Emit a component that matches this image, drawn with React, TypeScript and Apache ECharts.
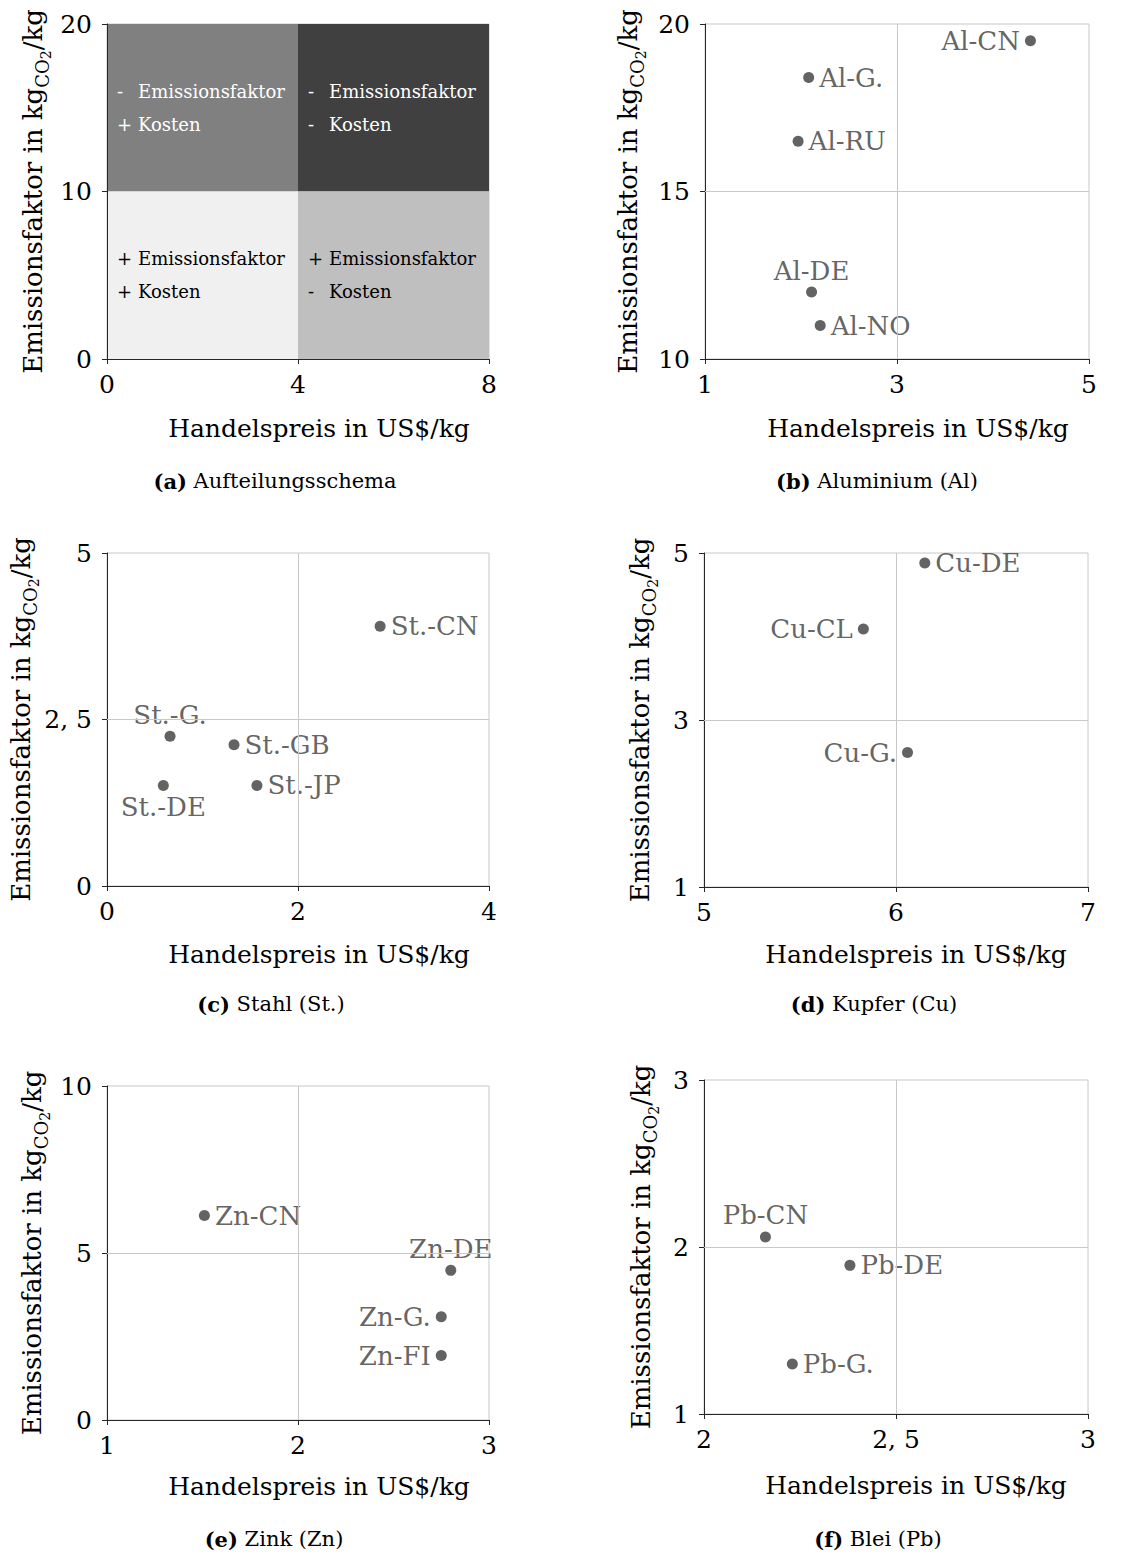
import React, { useEffect, useRef } from 'react';
import * as echarts from 'echarts';

const SERIF = '"DejaVu Serif", "Liberation Serif", serif';
const INK = '#000000';
const MARK = '#3c3c3c';
const GRID = '#c8c8c8';
const AXIS = '#262626';

// (a) Aufteilungsschema: quadrants of price vs. emission factor
const schemeXTicks = [0, 4, 8];
const schemeYTicks = [0, 10, 20];
const criteria = ['Emissionsfaktor', 'Kosten'];
// order: top-left, top-right, bottom-left, bottom-right; [emission sign, cost sign]
const quadrantSigns = [['-', '+'], ['-', '-'], ['+', '+'], ['+', '-']];
const quadrantFills = ['#808080', '#404040', '#f0f0f0', '#bfbfbf'];
const quadrantInk = ['#ffffff', '#ffffff', '#000000', '#000000'];

// (b) Aluminium
const alNames = ['Al-CN', 'Al-G.', 'Al-RU', 'Al-DE', 'Al-NO'];
const alPrice = [4.39, 2.08, 1.97, 2.11, 2.2];
const alEmission = [19.5, 18.4, 16.5, 12.0, 11.0];
const alXTicks = [1, 3, 5];
const alYTicks = [10, 15, 20];

// (c) Stahl
const stNames = ['St.-CN', 'St.-G.', 'St.-GB', 'St.-DE', 'St.-JP'];
const stPrice = [2.86, 0.66, 1.33, 0.59, 1.57];
const stEmission = [3.9, 2.25, 2.12, 1.51, 1.51];
const stXTicks = [0, 2, 4];
const stYTicks = [0, 2.5, 5];

// (d) Kupfer
const cuNames = ['Cu-DE', 'Cu-CL', 'Cu-G.'];
const cuPrice = [6.15, 5.83, 6.06];
const cuEmission = [4.88, 4.09, 2.61];
const cuXTicks = [5, 6, 7];
const cuYTicks = [1, 3, 5];

// (e) Zink
const znNames = ['Zn-CN', 'Zn-DE', 'Zn-G.', 'Zn-FI'];
const znPrice = [1.51, 2.8, 2.75, 2.75];
const znEmission = [6.12, 4.48, 3.09, 1.93];
const znXTicks = [1, 2, 3];
const znYTicks = [0, 5, 10];

// (f) Blei
const pbNames = ['Pb-CN', 'Pb-DE', 'Pb-G.'];
const pbPrice = [2.16, 2.38, 2.23];
const pbEmission = [2.06, 1.89, 1.3];
const pbXTicks = [2, 2.5, 3];
const pbYTicks = [1, 2, 3];

const captionTags = ['(a)', '(b)', '(c)', '(d)', '(e)', '(f)'];
const captionTexts = ['Aufteilungsschema', 'Aluminium (Al)', 'Stahl (St.)', 'Kupfer (Cu)', 'Zink (Zn)', 'Blei (Pb)'];

const xTitle = 'Handelspreis in US$/kg';

// side on which each point label sits (default: right)
const labelSide: Record<string, string> = {
  'Al-CN': 'left',
  'Al-DE': 'top',
  'St.-G.': 'top',
  'St.-DE': 'bottom',
  'Cu-CL': 'left',
  'Cu-G.': 'left',
  'Zn-DE': 'top',
  'Zn-G.': 'left',
  'Zn-FI': 'left',
  'Pb-CN': 'top',
};

// page layout of the six panels
const layout = [
  { left: 107, top: 24, width: 382, height: 335, yTitleX: 35, xTitleX: 319, xTitleY: 428, capX: 275, capY: 481 },
  { left: 705, top: 24, width: 384, height: 335, yTitleX: 630, xTitleX: 918, xTitleY: 428, capX: 877, capY: 481 },
  { left: 107, top: 553, width: 382, height: 333, yTitleX: 23, xTitleX: 319, xTitleY: 954, capX: 271, capY: 1004 },
  { left: 704, top: 553, width: 384, height: 334, yTitleX: 642, xTitleX: 916, xTitleY: 954, capX: 874, capY: 1004 },
  { left: 107, top: 1086, width: 382, height: 334, yTitleX: 34, xTitleX: 319, xTitleY: 1486, capX: 274, capY: 1539 },
  { left: 704, top: 1080, width: 384, height: 334, yTitleX: 643, xTitleX: 916, xTitleY: 1485, capX: 878, capY: 1539 },
];

const scatterPanels = [
  { names: alNames, x: alPrice, y: alEmission, xTicks: alXTicks, yTicks: alYTicks },
  { names: stNames, x: stPrice, y: stEmission, xTicks: stXTicks, yTicks: stYTicks },
  { names: cuNames, x: cuPrice, y: cuEmission, xTicks: cuXTicks, yTicks: cuYTicks },
  { names: znNames, x: znPrice, y: znEmission, xTicks: znXTicks, yTicks: znYTicks },
  { names: pbNames, x: pbPrice, y: pbEmission, xTicks: pbXTicks, yTicks: pbYTicks },
];

const fmt = (v: number) => String(v).replace('.', ', ');

function valueAxis(gridIndex: number, ticks: number[], isX: boolean) {
  return {
    type: 'value',
    gridIndex,
    min: ticks[0],
    max: ticks[ticks.length - 1],
    z: 4,
    axisLine: { show: true, onZero: false, lineStyle: { color: AXIS, width: 1 } },
    axisTick: { show: true, inside: false, length: 5, customValues: ticks, lineStyle: { color: AXIS, width: 1 } },
    axisLabel: {
      show: true,
      customValues: ticks,
      margin: isX ? 13 : 15,
      color: INK,
      fontSize: 25,
      fontFamily: SERIF,
      formatter: fmt,
      hideOverlap: false,
    },
    splitLine: { show: false },
  };
}

function buildOption() {
  const xTicksAll = [schemeXTicks, ...scatterPanels.map((p) => p.xTicks)];
  const yTicksAll = [schemeYTicks, ...scatterPanels.map((p) => p.yTicks)];

  const grid = layout.map((l) => ({
    left: l.left,
    top: l.top,
    width: l.width,
    height: l.height,
    containLabel: false,
    outerBoundsMode: 'none',
    show: true,
    borderColor: GRID,
    borderWidth: 1,
    backgroundColor: 'transparent',
  }));

  const xAxis = xTicksAll.map((t, i) => valueAxis(i, t, true));
  const yAxis = yTicksAll.map((t, i) => valueAxis(i, t, false));

  // quadrants of the scheme panel
  const colBounds = [
    [schemeXTicks[0], schemeXTicks[1]],
    [schemeXTicks[1], schemeXTicks[2]],
  ];
  const rowBounds = [
    [schemeYTicks[1], schemeYTicks[2]],
    [schemeYTicks[0], schemeYTicks[1]],
  ];
  const quadrantData = quadrantSigns.map((signs, q) => {
    const row = Math.floor(q / 2);
    const col = q % 2;
    const ink = quadrantInk[q];
    const textStyle = { fontSize: 18, fontFamily: SERIF, color: ink, lineHeight: 33 };
    return [
      {
        xAxis: colBounds[col][0],
        yAxis: rowBounds[row][0],
        itemStyle: { color: quadrantFills[q], opacity: 1, borderWidth: 0 },
        label: {
          show: true,
          position: 'insideLeft',
          distance: 10,
          formatter: `{s|${signs[0]}}{t|${criteria[0]}}\n{s|${signs[1]}}{t|${criteria[1]}}`,
          rich: {
            s: { ...textStyle, width: 21 },
            t: { ...textStyle },
          },
        },
      },
      { xAxis: colBounds[col][1], yAxis: rowBounds[row][1] },
    ];
  });

  const series: any[] = [
    {
      type: 'scatter',
      xAxisIndex: 0,
      yAxisIndex: 0,
      data: [],
      silent: true,
      markArea: { silent: true, data: quadrantData },
    },
  ];

  scatterPanels.forEach((p, k) => {
    const i = k + 1;
    series.push({
      type: 'scatter',
      xAxisIndex: i,
      yAxisIndex: i,
      symbol: 'circle',
      symbolSize: 11,
      silent: true,
      itemStyle: { color: MARK },
      label: {
        show: true,
        formatter: '{b}',
        color: MARK,
        fontSize: 26,
        fontFamily: SERIF,
        distance: 5,
      },
      data: p.names.map((n, j) => ({
        name: n,
        value: [p.x[j], p.y[j]],
        label: { position: labelSide[n] || 'right', distance: labelSide[n] === 'top' || labelSide[n] === 'bottom' ? 3 : 5 },
      })),
      markLine: {
        silent: true,
        symbol: ['none', 'none'],
        label: { show: false },
        lineStyle: { color: GRID, width: 1, type: 'solid' },
        data: [{ xAxis: p.xTicks[1] }, { yAxis: p.yTicks[1] }],
      },
    });
  });

  const graphic: any[] = [];
  layout.forEach((l, i) => {
    graphic.push({
      type: 'text',
      x: l.xTitleX,
      y: l.xTitleY,
      silent: true,
      style: {
        text: xTitle,
        fontSize: 25,
        fontFamily: SERIF,
        fill: INK,
        align: 'center',
        verticalAlign: 'middle',
      },
    });
    graphic.push({
      type: 'text',
      x: l.yTitleX,
      y: l.top + l.height / 2,
      rotation: Math.PI / 2,
      silent: true,
      style: {
        text: '{n|Emissionsfaktor in kg}{s|CO}{u|2}{n|/kg}',
        fontFamily: SERIF,
        fill: INK,
        align: 'center',
        verticalAlign: 'middle',
        rich: {
          n: { fontSize: 26, lineHeight: 30, verticalAlign: 'top', fontFamily: SERIF, fill: INK },
          s: { fontSize: 18, lineHeight: 18, padding: [13, 0, 0, 0], verticalAlign: 'top', fontFamily: SERIF, fill: INK },
          u: { fontSize: 14, lineHeight: 14, padding: [19, 0, 0, 0], verticalAlign: 'top', fontFamily: SERIF, fill: INK },
        },
      },
    });
    graphic.push({
      type: 'text',
      x: l.capX,
      y: l.capY,
      silent: true,
      style: {
        text: `{b|${captionTags[i]}} {r|${captionTexts[i]}}`,
        fontSize: 21,
        fontFamily: SERIF,
        fill: INK,
        align: 'center',
        verticalAlign: 'middle',
        rich: {
          b: { fontSize: 21, fontWeight: 'bold', fontFamily: SERIF, fill: INK },
          r: { fontSize: 21, fontFamily: SERIF, fill: INK },
        },
      },
    });
  });

  return {
    animation: false,
    backgroundColor: '#ffffff',
    textStyle: { fontFamily: SERIF },
    grid,
    xAxis,
    yAxis,
    series,
    graphic,
  };
}

export default function App() {
  const ref = useRef<HTMLDivElement>(null);

  useEffect(() => {
    if (!ref.current) return;
    const chart = echarts.init(ref.current, null, { renderer: 'svg' });
    chart.setOption(buildOption() as any);
    return () => chart.dispose();
  }, []);

  return (
    <div
      ref={ref}
      style={{ position: 'absolute', left: 0, top: 0, width: 1137, height: 1558, background: '#ffffff' }}
    />
  );
}
